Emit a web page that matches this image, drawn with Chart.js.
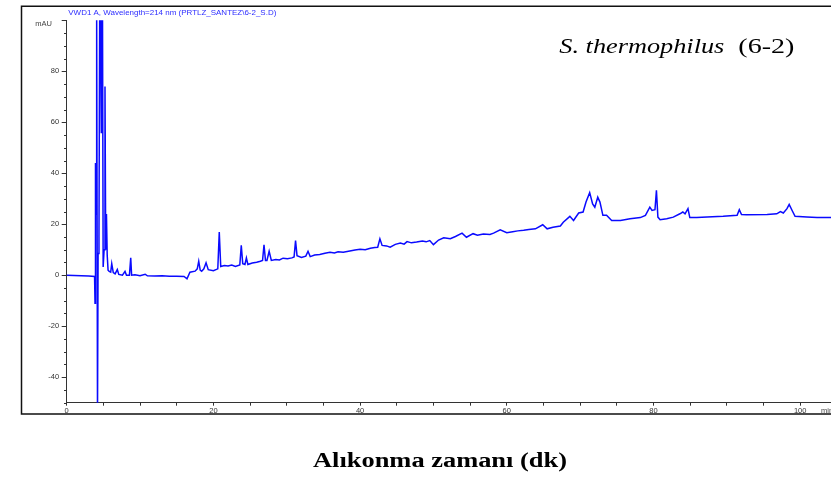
<!DOCTYPE html>
<html>
<head>
<meta charset="utf-8">
<script src="https://cdn.jsdelivr.net/npm/chart.js@4.4.1/dist/chart.umd.min.js"></script>
<style>
html,body{margin:0;padding:0;background:#fff;}
#wrap{position:absolute;left:0;top:0;width:831px;height:479px;}
</style>
</head>
<body>
<div id="wrap"><canvas id="c" width="831" height="479"></canvas></div>
<script>
// Retention time (min)
const timeMin = [
 0,1,2,3,3.8,3.86,3.9,3.95,4.0,4.05,4.12,4.2,4.28,4.4,4.5,4.6,4.72,4.8,4.88,4.97,5.1,5.22,5.32,5.42,5.52,5.64,
 5.8,6.0,6.14,6.35,6.6,6.9,7.1,7.6,7.95,8.15,8.55,8.73,8.85,9.3,10.0,10.7,11.0,12.0,13.0,14.0,15.0,16.0,16.4,16.8,
 17.5,17.8,18.0,18.2,18.4,18.7,19.0,19.3,20.0,20.6,20.8,21.0,21.5,22.0,22.5,23.0,23.6,23.8,24.0,24.3,24.5,24.7,
 25.3,25.9,26.4,26.7,26.9,27.1,27.3,27.6,27.9,28.5,29.0,29.5,30.1,30.7,31.0,31.2,31.4,32.0,32.6,32.9,33.2,33.8,
 34.5,35.2,35.9,36.5,37.0,37.7,38.6,39.3,40.0,40.7,41.4,42.0,42.4,42.7,43.0,43.6,44.1,44.8,45.5,46.0,46.4,47.0,
 47.7,48.5,49.0,49.5,50.0,50.7,51.4,52.3,53.0,53.9,54.5,55.4,56.0,56.8,57.7,58.2,59.1,60.0,60.8,61.5,62.3,63.0,
 63.9,64.9,65.5,66.3,67.3,67.7,68.6,69.1,69.8,70.4,70.8,71.3,71.7,72.0,72.4,72.7,73.1,73.6,74.3,75.5,76.8,78.2,
 78.9,79.5,79.8,80.2,80.4,80.6,80.9,81.8,82.7,83.6,84.0,84.3,84.7,84.95,85.9,87.3,89.5,91.4,91.7,92.0,92.7,95.5,
 96.8,97.3,97.7,98.2,98.5,98.9,99.3,100.9,102.3,104.2,105
];
// Absorbance (mAU)
const absorbance = [
 0,-0.1,-0.2,-0.3,-0.5,-11,-0.5,44,24,105,105,-55,8.5,15,105,105,56,105,105,3.2,10,74,10,24,8,2,
 1.5,1.2,4.5,1,0.5,2.2,0.3,0,1.5,0,0,6.8,0,0.2,-0.2,0.4,-0.2,-0.3,-0.2,-0.4,-0.4,-0.5,-1.4,1.2,
 1.6,2.5,5.5,2,1.6,2.5,4.9,2.2,1.8,2.5,16.9,3.4,3.8,3.6,4.0,3.4,4,11.7,4.5,4.2,6.8,4.2,
 4.8,5.1,5.5,5.8,11.9,5.8,5.8,9.4,5.8,6.2,6.0,6.7,6.5,6.8,7.2,13.6,7.7,7,7.5,9.4,7.3,7.9,
 8.1,8.6,9,8.7,9.2,9.0,9.5,9.9,10.2,10.0,10.6,10.9,11,14.3,11.7,11.5,11,12.1,12.6,12.2,13.2,12.7,
 13,13.4,13.1,13.6,12,13.8,14.7,14.3,15.2,16.5,14.9,16.3,15.7,16.2,16,16.5,17.8,16.7,17.1,17.4,17.6,17.9,
 18.2,19.8,18.2,18.8,19.3,20.8,23.1,21.5,24.4,24.8,28.7,32.4,28,26.7,30.6,28.7,23.5,23.5,21.5,21.5,22.2,22.6,
 23.5,26.7,25.4,25.7,33.3,22.8,21.8,22.2,22.8,24.1,24.8,24.1,26.1,22.6,22.6,22.8,23.1,23.5,25.7,23.8,23.7,23.8,
 24.1,25,24.4,26.1,27.8,25.4,23.1,22.8,22.6,22.6,22.6
];
// Axis tick labels
const xTickLabels = [0,20,40,60,80,100];
const yTickLabels = [-40,-20,0,20,40,60,80];

const points = timeMin.map((t,i)=>({x:t,y:absorbance[i]}));
const AXIS = '#333';

function stretchText(ctx, text, x, y, font, width){
  ctx.font = font;
  const w = ctx.measureText(text).width;
  ctx.save();
  ctx.translate(x, y);
  ctx.scale(width / w, 1);
  ctx.textAlign = 'left';
  ctx.fillText(text, 0, 0);
  ctx.restore();
}

const decor = {
  id:'decor',
  afterDraw(chart){
    const ctx = chart.ctx;
    const ys = chart.scales.y;
    const area = chart.chartArea;
    ctx.save();
    // minor y ticks
    ctx.strokeStyle = AXIS; ctx.lineWidth = 1;
    for (let v=-50; v<=100; v+=5){
      if (v%20===0 || v===100) continue;
      const py = Math.round(ys.getPixelForValue(v))+0.5;
      ctx.beginPath(); ctx.moveTo(area.left-2.7, py); ctx.lineTo(area.left, py); ctx.stroke();
    }
    // outer frame
    ctx.strokeStyle = '#111'; ctx.lineWidth = 1.5;
    ctx.beginPath();
    ctx.moveTo(831, 6.3); ctx.lineTo(21.5, 6.3); ctx.lineTo(21.5, 414); ctx.lineTo(831, 414);
    ctx.stroke();
    // header
    ctx.fillStyle = 'rgb(45,45,255)';
    ctx.textBaseline = 'middle';
    stretchText(ctx, 'VWD1 A, Wavelength=214 nm (PRTLZ_SANTEZ\\6-2_S.D)', 68.3, 12.3,
      '8px "Liberation Sans", Arial, sans-serif', 208);
    // units
    ctx.fillStyle = '#444';
    ctx.font = '7.5px "Liberation Sans", Arial, sans-serif';
    ctx.textAlign = 'right';
    ctx.fillText('mAU', 52, 23.8);
    ctx.textAlign = 'left';
    ctx.fillText('min', 821, 410.5);
    // sample label
    ctx.fillStyle = '#000';
    ctx.textBaseline = 'alphabetic';
    stretchText(ctx, 'S. thermophilus', 559.3, 52.7, 'italic 21px "Liberation Serif", "Times New Roman", serif', 165);
    stretchText(ctx, '(6-2)', 738.3, 52.7, '21px "Liberation Serif", "Times New Roman", serif', 56);
    // axis title
    ctx.textBaseline = 'middle';
    stretchText(ctx, 'Alıkonma zamanı (dk)', 313, 462, 'bold 20px "Liberation Serif", "Times New Roman", serif', 254);
    ctx.restore();
  }
};

new Chart(document.getElementById('c'), {
  type:'line',
  data:{datasets:[{
    data:points,
    borderColor:'rgb(10,10,255)',
    borderWidth:1.5,
    pointRadius:0,
    tension:0,
    fill:false
  }]},
  options:{
    responsive:false,
    animation:false,
    devicePixelRatio:1,
    layout:{padding:{left:0,top:20.3,right:0,bottom:56.3}},
    plugins:{legend:{display:false},tooltip:{enabled:false},title:{display:false}},
    scales:{
      x:{
        type:'linear', min:0, max:104.2,
        afterFit(s){ s.height = 20; },
        afterBuildTicks(s){
          const t = [];
          for (let v=0; v<=100; v+=5) t.push({value:v});
          s.ticks = t;
        },
        border:{display:true,color:AXIS,width:1},
        grid:{display:true,drawOnChartArea:false,drawTicks:true,tickLength:3,tickColor:AXIS},
        ticks:{
          autoSkip:false, maxRotation:0, padding:1,
          color:'#333', font:{size:7.5,family:'"Liberation Sans", Arial, sans-serif'},
          callback:(v)=> xTickLabels.includes(v) ? String(v) : ''
        }
      },
      y:{
        type:'linear', min:-50, max:100,
        afterFit(s){ s.width = 66.7; },
        border:{display:true,color:AXIS,width:1},
        grid:{display:true,drawOnChartArea:false,drawTicks:true,tickLength:5,
          tickColor:(c)=> (c.tick && (c.tick.value%20===0 || c.tick.value===100)) ? AXIS : 'rgba(0,0,0,0)'},
        ticks:{
          stepSize:5, autoSkip:false, padding:2.5,
          color:'#333', font:{size:7.5,family:'"Liberation Sans", Arial, sans-serif'},
          callback:(v)=> yTickLabels.includes(v) ? String(v) : ''
        }
      }
    }
  },
  plugins:[decor]
});
</script>
</body>
</html>
